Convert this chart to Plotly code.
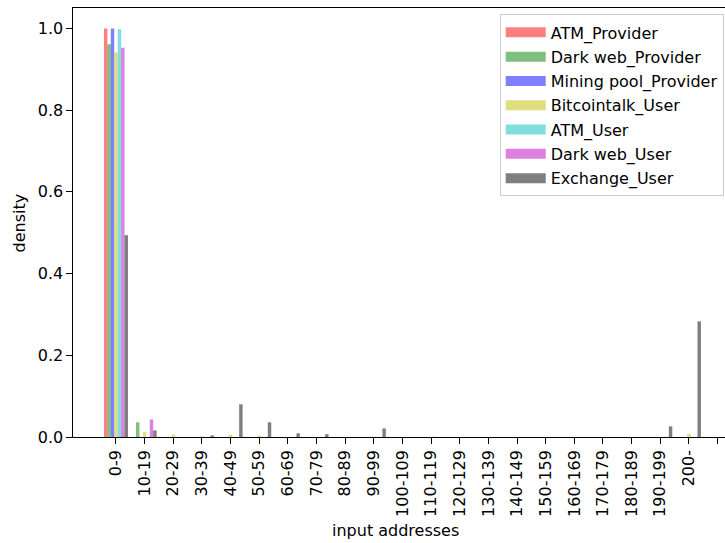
import plotly.graph_objects as go

# Bins of input-address counts
categories = ["0-9", "10-19", "20-29", "30-39", "40-49", "50-59", "60-69", "70-79",
              "80-89", "90-99", "100-109", "110-119", "120-129", "130-139", "140-149",
              "150-159", "160-169", "170-179", "180-189", "190-199", "200-"]

atm_provider = [1.0] + [0.0] * 20
darkweb_provider = [0.961, 0.036] + [0.0] * 19
miningpool_provider = [1.0] + [0.0] * 20
bitcointalk_user = [0.941, 0.013, 0.006, 0.002, 0.006, 0.003, 0.0, 0.0, 0.0, 0.001,
                    0.0, 0.0, 0.0, 0.0, 0.0, 0.0, 0.0, 0.0, 0.0, 0.0, 0.008]
atm_user = [0.998, 0.0, 0.0, 0.0, 0.0, 0.0, 0.0, 0.0, 0.0, 0.0,
            0.0, 0.001, 0.0, 0.0, 0.0, 0.0, 0.0, 0.0, 0.0, 0.0, 0.0]
darkweb_user = [0.953, 0.043] + [0.0] * 19
exchange_user = [0.494, 0.016, 0.0, 0.004, 0.080, 0.036, 0.009, 0.007, 0.0, 0.021,
                 0.0, 0.0, 0.0, 0.0, 0.0, 0.0, 0.0, 0.0, 0.0, 0.026, 0.283]

series_names = ["ATM_Provider", "Dark web_Provider", "Mining pool_Provider",
                "Bitcointalk_User", "ATM_User", "Dark web_User", "Exchange_User"]
series_values = [atm_provider, darkweb_provider, miningpool_provider,
                 bitcointalk_user, atm_user, darkweb_user, exchange_user]
series_colors = ["rgba(255,0,0,0.5)", "rgba(0,128,0,0.5)", "rgba(0,0,255,0.5)",
                 "rgba(191,191,0,0.5)", "rgba(0,191,191,0.5)", "rgba(191,0,191,0.5)",
                 "rgba(0,0,0,0.5)"]

FONT = "DejaVu Sans"
FS = 16

x_pos = list(range(len(categories)))

fig = go.Figure()
for name, vals, col in zip(series_names, series_values, series_colors):
    fig.add_trace(go.Bar(x=x_pos, y=vals, name=name, marker=dict(color=col, line=dict(width=0)),
                         showlegend=False))

# wide patch-style legend entries
for i, (name, col) in enumerate(zip(series_names, series_colors)):
    fig.add_trace(go.Scatter(x=[None], y=[None], mode="lines", name=name,
                             line=dict(color=col, width=11), legendgroup=f"g{i}",
                             showlegend=True))

tick_vals = list(range(len(categories) + 1))
tick_text = categories + [""]

fig.update_layout(
    width=725, height=543,
    margin=dict(l=73, r=0, t=8, b=106),
    paper_bgcolor="white", plot_bgcolor="white",
    barmode="group", bargap=0.16, bargroupgap=0.0,
    font=dict(family=FONT, size=FS, color="black"),
    showlegend=True,
    legend=dict(x=0.998, y=0.985, xanchor="right", yanchor="top",
                bgcolor="rgba(255,255,255,0.8)", bordercolor="#cccccc", borderwidth=1,
                font=dict(family=FONT, size=FS, color="black"),
                traceorder="grouped", tracegroupgap=0.5, itemwidth=40),
    xaxis=dict(range=[-1.5, 21.26], tickmode="array", tickvals=tick_vals, ticktext=tick_text,
               tickangle=-90, ticks="outside", ticklen=5.5, tickwidth=1.25, tickcolor="black",
               showline=True, linecolor="black", linewidth=1.25, mirror=True,
               showgrid=False, zeroline=False,
               tickfont=dict(family=FONT, size=FS, color="black")),
    yaxis=dict(range=[0, 1.05], tickmode="array", tickvals=[0, 0.2, 0.4, 0.6, 0.8, 1.0],
               tickformat=".1f", ticks="outside", ticklen=5.5, tickwidth=1.25, tickcolor="black",
               showline=True, linecolor="black", linewidth=1.25, mirror=False,
               showgrid=False, zeroline=False,
               tickfont=dict(family=FONT, size=FS, color="black")),
    annotations=[
        dict(text="input addresses", xref="paper", yref="paper", x=0.4946, y=-0.219,
             xanchor="center", yanchor="middle", showarrow=False,
             font=dict(family=FONT, size=FS, color="black")),
        dict(text="density", xref="paper", yref="paper", x=-0.0813, y=0.5,
             xanchor="center", yanchor="middle", textangle=-90, showarrow=False,
             font=dict(family=FONT, size=FS, color="black")),
    ],
)

fig.write_html("out.html")
